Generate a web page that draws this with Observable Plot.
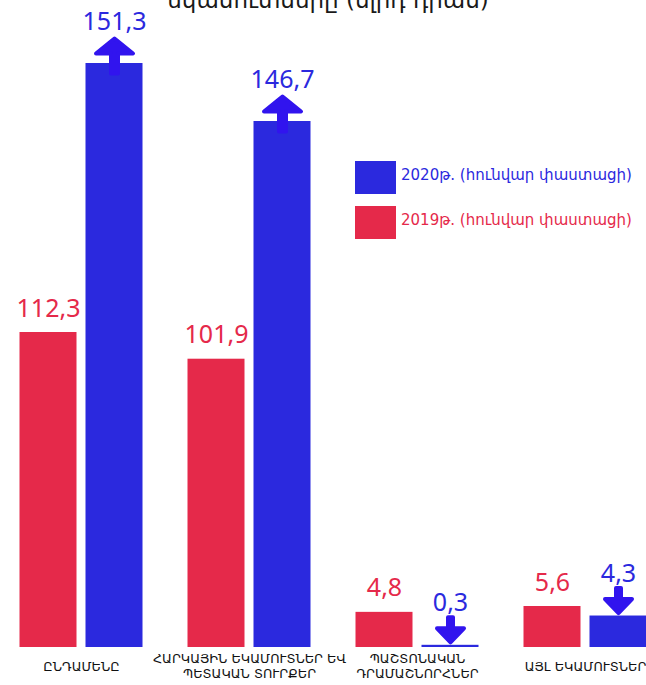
<!DOCTYPE html>
<html>
<head>
<meta charset="utf-8">
<script src="https://cdn.jsdelivr.net/npm/d3@7"></script>
<script src="https://cdn.jsdelivr.net/npm/@observablehq/plot@0.6"></script>
<style>
  body { margin: 0; background: #fff; }
  #wrap { position: relative; width: 646px; height: 685px; overflow: hidden; background: #fff; }
  #chart { position: absolute; left: 0; top: 0; }
  #title { position: absolute; left: 0; width: 646px; bottom: calc(100% - 13px); text-align: center;
           font: 23px/26px "DejaVu Sans", sans-serif; color: #1a1a1a; padding-left: 10px; box-sizing: border-box; }
  .sw { position: absolute; left: 355px; width: 41px; height: 33px; }
  .lt { position: absolute; left: 401px; font: 15px/20px "DejaVu Sans", sans-serif; white-space: nowrap; }
</style>
</head>
<body>
<div id="wrap"><div id="chart"></div><div id="title"></div><div id="legend"></div></div>
<script>
const categories = [
  "ԸՆԴԱՄԵՆԸ",
  "ՀԱՐԿԱՅԻՆ ԵԿԱՄՈՒՏՆԵՐ ԵՎ\nՊԵՏԱԿԱՆ ՏՈՒՐՔԵՐ",
  "ՊԱՇՏՈՆԱԿԱՆ\nԴՐԱՄԱՇՆՈՐՀՆԵՐ",
  "ԱՅԼ ԵԿԱՄՈՒՏՆԵՐ"
];
const values2019 = [112.3, 101.9, 4.8, 5.6];
const values2020 = [151.3, 146.7, 0.3, 4.3];
const legendLabels = ["2020թ. (հունվար փաստացի)", "2019թ. (հունվար փաստացի)"];
const titleLines = ["Պետական բյուջեի", "եկամուտները (մլրդ դրամ)"];

const red = "#e5294a";
const blue = "#2b29de";
const arrowBlue = "#3114ee";

const reds = categories.map((c, i) => ({cat: c, value: values2019[i]}));
const blues = categories.map((c, i) => ({cat: c, value: values2020[i], up: values2020[i] > values2019[i]}));
const fmt = v => v.toFixed(1).replace(".", ",");

// The source chart's bars are not drawn in proportion to their values:
// a piecewise-linear value -> height transform reproduces its (broken) scale.
const heightOf = d3.scaleLinear().domain([0, 5.6, 112.3, 146.7, 151.3]).range([0, 41, 315, 526, 584]);

const upArrow = {draw(ctx) {
  ctx.moveTo(0, -25); ctx.lineTo(18.5, -10); ctx.lineTo(3.5, -10); ctx.lineTo(3.5, 10);
  ctx.lineTo(-3.5, 10); ctx.lineTo(-3.5, -10); ctx.lineTo(-18.5, -10); ctx.closePath();
}};
const downArrow = {draw(ctx) {
  ctx.moveTo(0, -3); ctx.lineTo(13.5, -17); ctx.lineTo(2.5, -17); ctx.lineTo(2.5, -28);
  ctx.lineTo(-2.5, -28); ctx.lineTo(-2.5, -17); ctx.lineTo(-13.5, -17); ctx.closePath();
}};

const chart = Plot.plot({
  width: 646,
  height: 685,
  marginTop: 0,
  marginBottom: 38,
  marginLeft: 23,
  marginRight: 0,
  style: {background: "transparent"},
  x: {domain: categories, range: [-3, 669], padding: 0, axis: null},
  y: {transform: heightOf, domain: [0, 584], range: [647, 63], axis: null},
  marks: [
    Plot.barY(reds, {x: "cat", y: "value", fill: red, dx: -33, insetLeft: 55.5, insetRight: 55.5}),
    Plot.barY(blues, {x: "cat", y: "value", fill: blue, dx: 33, insetLeft: 55.5, insetRight: 55.5}),
    Plot.dot(blues.filter(d => d.up), {x: "cat", y: "value", dx: 33, symbol: upArrow, r: 5,
      fill: arrowBlue, stroke: arrowBlue, strokeWidth: 4, strokeLinejoin: "round"}),
    Plot.dot(blues.filter(d => !d.up), {x: "cat", y: "value", dx: 33, symbol: downArrow, r: 5,
      fill: arrowBlue, stroke: arrowBlue, strokeWidth: 4, strokeLinejoin: "round"}),
    Plot.text(reds, {x: "cat", y: "value", text: d => fmt(d.value), dx: -33, dy: -16, lineAnchor: "bottom",
      fill: red, fontSize: 25, fontFamily: "Noto Sans, sans-serif"}),
    Plot.text(blues, {x: "cat", y: "value", text: d => fmt(d.value), dx: 33, dy: -34, lineAnchor: "bottom",
      fill: blue, fontSize: 25, fontFamily: "Noto Sans, sans-serif"}),
    Plot.text(categories, {x: d => d, text: d => d, frameAnchor: "bottom", dy: 18, lineAnchor: "middle",
      lineHeight: 1.23, fontSize: 12.8, fontFamily: "DejaVu Sans, sans-serif", fill: "#111"})
  ]
});
document.getElementById("chart").appendChild(chart);

document.getElementById("title").innerHTML = titleLines.join("<br>");

const legend = document.getElementById("legend");
const legendColors = [blue, red];
const swatchTops = [161, 206];
legendLabels.forEach((label, i) => {
  const sw = document.createElement("div");
  sw.className = "sw";
  sw.style.top = swatchTops[i] + "px";
  sw.style.background = legendColors[i];
  legend.appendChild(sw);
  const t = document.createElement("div");
  t.className = "lt";
  t.style.top = (swatchTops[i] + 4) + "px";
  t.style.color = legendColors[i];
  t.textContent = label;
  legend.appendChild(t);
});
</script>
</body>
</html>
